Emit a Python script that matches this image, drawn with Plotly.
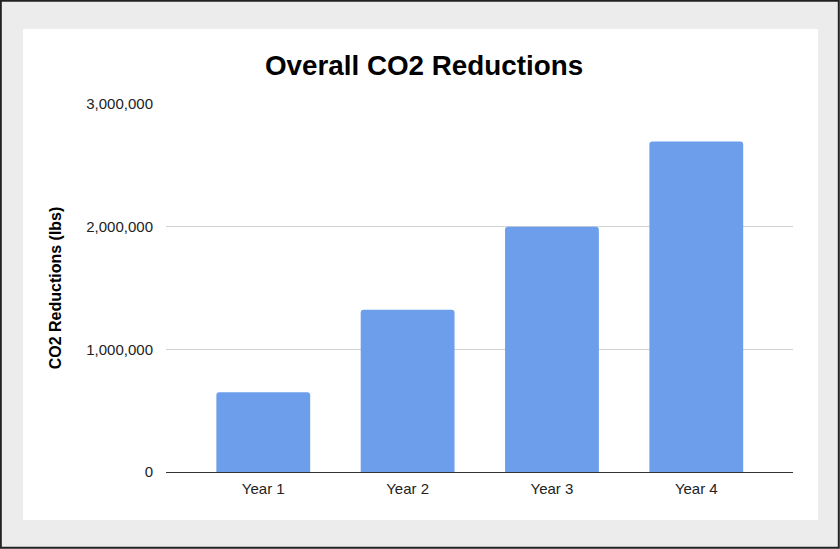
import plotly.graph_objects as go

categories = ["Year 1", "Year 2", "Year 3", "Year 4"]
reductions = [650000, 1322000, 2000000, 2694000]
y_ticks = [0, 1000000, 2000000, 3000000]
y_tick_labels = ["0", "1,000,000", "2,000,000", "3,000,000"]

FONT = "Arial, Liberation Sans, sans-serif"

fig = go.Figure(go.Bar(
    x=categories, y=reductions,
    marker=dict(color="#6d9eeb", line=dict(width=0), cornerradius=3),
    width=0.65,
))

# plot area x 166..793, y 104..472
L, R, T, B = 166, 47, 104, 77
W, H = 840, 549
pw, ph = W - L - R, H - T - B

def px(x):
    return (x - L) / pw

def py(y):
    return (H - B - y) / ph

fig.update_layout(
    width=W, height=H,
    margin=dict(l=L, r=R, t=T, b=B),
    paper_bgcolor="#ececec",
    plot_bgcolor="rgba(0,0,0,0)",
    showlegend=False,
    title=dict(text="<b>Overall CO2 Reductions</b>", x=px(424), xref="paper", xanchor="center",
               y=1 - 65.5 / H, yanchor="middle", font=dict(family=FONT, size=27.8, color="#000")),
    font=dict(family=FONT, size=15, color="#222"),
    shapes=[
        dict(type="rect", xref="paper", yref="paper", x0=px(23), x1=px(818), y0=py(520), y1=py(29),
             fillcolor="white", line=dict(width=0), layer="below"),
        dict(type="rect", xref="paper", yref="paper", x0=px(0.8), x1=px(838.8), y0=py(547.8), y1=py(0.8),
             fillcolor="rgba(0,0,0,0)", line=dict(width=2, color="#222"), layer="above"),
    ],
)
fig.update_yaxes(
    range=[0, 3000000], tickvals=y_ticks, ticktext=y_tick_labels,
    showgrid=True, gridcolor="#d3d3d3", gridwidth=1,
    zeroline=False, showline=False,
    ticks="outside", ticklen=9, tickcolor="rgba(0,0,0,0)",
    tickfont=dict(size=15, color="#222"),
    title=dict(text="<b>CO2 Reductions (lbs)</b>", font=dict(size=16, color="#000"), standoff=20),
)
fig.update_xaxes(
    range=[-0.674, 3.670],
    showline=True, linecolor="#333", linewidth=1,
    showgrid=False, ticks="outside", ticklen=3, tickcolor="rgba(0,0,0,0)",
    tickfont=dict(size=15, color="#222"),
)

fig.write_html("out.html")
